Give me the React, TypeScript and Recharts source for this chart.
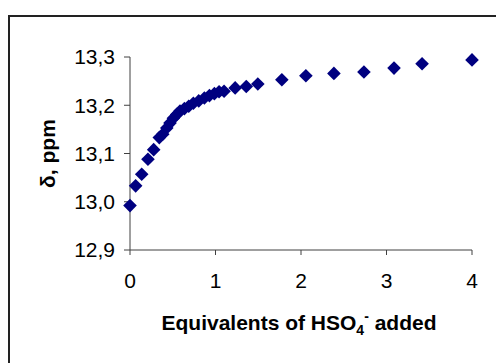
import { CartesianGrid, Scatter, ScatterChart, XAxis, YAxis } from "recharts";

const equivalents = [
  0, 0.066, 0.137, 0.21, 0.277, 0.343, 0.383, 0.43, 0.468, 0.507, 0.547, 0.585, 0.636, 0.687, 0.741, 0.804,
  0.87, 0.929, 0.987, 1.042, 1.1, 1.23, 1.36, 1.495, 1.776, 2.057, 2.385, 2.736, 3.088, 3.416, 4.0
];
const shifts = [
  12.992, 13.033, 13.057, 13.088, 13.108, 13.133, 13.14, 13.153, 13.163, 13.173, 13.181, 13.188, 13.193, 13.198,
  13.204, 13.209, 13.215, 13.22, 13.224, 13.228, 13.229, 13.236, 13.239, 13.244, 13.253, 13.261, 13.266, 13.269,
  13.277, 13.286, 13.294
];
const xTicks = [0, 1, 2, 3, 4];
const yTicks = [12.9, 13.0, 13.1, 13.2, 13.3];

const data = equivalents.map((x, i) => ({ x, y: shifts[i] }));

const AXIS = "#404040";
const FONT = "'Liberation Sans', Arial, sans-serif";

function Diamond(props: any) {
  const { cx, cy } = props;
  const r = 6.8;
  return <polygon points={`${cx},${cy - r} ${cx + r},${cy} ${cx},${cy + r} ${cx - r},${cy}`} fill="#000080" />;
}

function XTitle(props: any) {
  const vb = props.viewBox;
  return (
    <text x={vb.x + vb.width / 2 - 2} y={vb.y + 80} textAnchor="middle" fontSize={21} fontWeight="bold" fill="#000">
      Equivalents of HSO
      <tspan fontSize={14} dy={5}>4</tspan>
      <tspan fontSize={14} dy={-14}>-</tspan>
      <tspan dy={9}> added</tspan>
    </text>
  );
}

function YTitle(props: any) {
  const vb = props.viewBox;
  const x = 48;
  const y = vb.y + vb.height / 2;
  return (
    <text
      x={x}
      y={y}
      dy={7}
      transform={`rotate(-90, ${x}, ${y})`}
      textAnchor="middle"
      fontSize={21}
      fontWeight="bold"
      fill="#000"
    >
      δ, ppm
    </text>
  );
}

export default function App() {
  return (
    <div style={{ position: "absolute", left: 0, top: 0, width: 496, height: 363, overflow: "hidden", background: "#fff" }}>
      <div
        style={{
          position: "absolute",
          left: 8,
          top: 15,
          width: 600,
          height: 500,
          borderLeft: "2px solid #222",
          borderTop: "2px solid #222"
        }}
      />
      <div style={{ position: "absolute", left: 0, top: 0 }}>
        <ScatterChart
          width={496}
          height={363}
          margin={{ top: 57, right: 24, bottom: 43, left: 50 }}
          style={{ fontFamily: FONT }}
        >
          <CartesianGrid stroke="none" />
          <XAxis
            type="number"
            dataKey="x"
            domain={[0, 4]}
            ticks={xTicks}
            height={70}
            stroke={AXIS}
            tickSize={5}
            tickMargin={18}
            tick={{ fontSize: 21, fill: "#000" }}
            label={{ content: XTitle }}
          />
          <YAxis
            type="number"
            dataKey="y"
            domain={[12.9, 13.3]}
            ticks={yTicks}
            width={80}
            stroke={AXIS}
            tickSize={6}
            tickMargin={9}
            tick={{ fontSize: 21, fill: "#000" }}
            tickFormatter={(v: number) => v.toFixed(1).replace(".", ",")}
            label={{ content: YTitle }}
          />
          <Scatter data={data} shape={Diamond} isAnimationActive={false} />
        </ScatterChart>
      </div>
    </div>
  );
}
